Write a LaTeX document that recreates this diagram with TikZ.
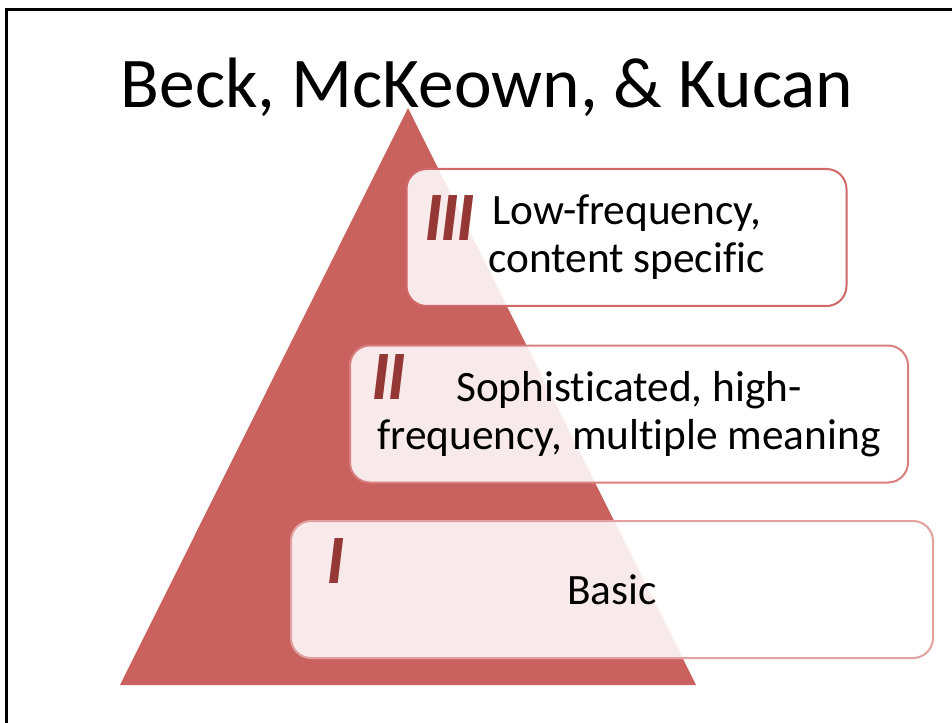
\documentclass[tikz,border=0pt]{standalone}
\usepackage{fontspec}
\setmainfont{Carlito}[Ligatures=NoCommon]
\usepackage{xcolor}
\usepackage{tikz}
\usetikzlibrary{positioning}
\definecolor{pyramidred}{RGB}{201,98,95}
\definecolor{numeralred}{RGB}{149,55,53}
\definecolor{lineIII}{RGB}{208,104,104}
\definecolor{lineII}{RGB}{216,128,128}
\definecolor{lineI}{RGB}{226,160,160}

\begin{document}
\begin{tikzpicture}[x=0.75pt,y=-0.75pt,
    level box/.style={rounded corners=15pt,line width=1.5pt,fill=white,fill opacity=0.87,text opacity=1,
      minimum height=102.75pt,inner sep=0pt,align=center,font=\fontsize{32.5}{36}\selectfont},
    numeral/.style={text=numeralred,inner sep=0pt,font=\fontsize{52}{52}\selectfont\bfseries\itshape}]
    \useasboundingbox (0,0) rectangle (952,723);
    % frame
    \draw[line width=2.25pt] (6,730) -- (6,10) -- (960,10);
    % pyramid
    \fill[pyramidred] (408,108) -- (696,685) -- (120,685) -- cycle;
    \node[anchor=base,inner sep=0pt,font=\fontsize{53.5}{60}\selectfont] (title) at (487,108) {Beck, McKeown, \& Kucan};

    \node[level box,draw=lineIII,minimum width=330pt] (level3) at (626.5,237.5) {Low-frequency,\\content specific};
    \node[level box,draw=lineII,minimum width=418.5pt] (level2) at (629,414) {Sophisticated, high-\\frequency, multiple meaning};
    \node[level box,draw=lineI,minimum width=481.5pt] (level1) at (612,589.5) {Basic};

    \node[numeral] (num3) at (450,218) {I\kern-2pt I\kern-2pt I};
    \node[numeral] (num2) at (389,377) {I\kern-2pt I};
    \node[numeral] (num1) at (336,561) {I};
\end{tikzpicture}
\end{document}
